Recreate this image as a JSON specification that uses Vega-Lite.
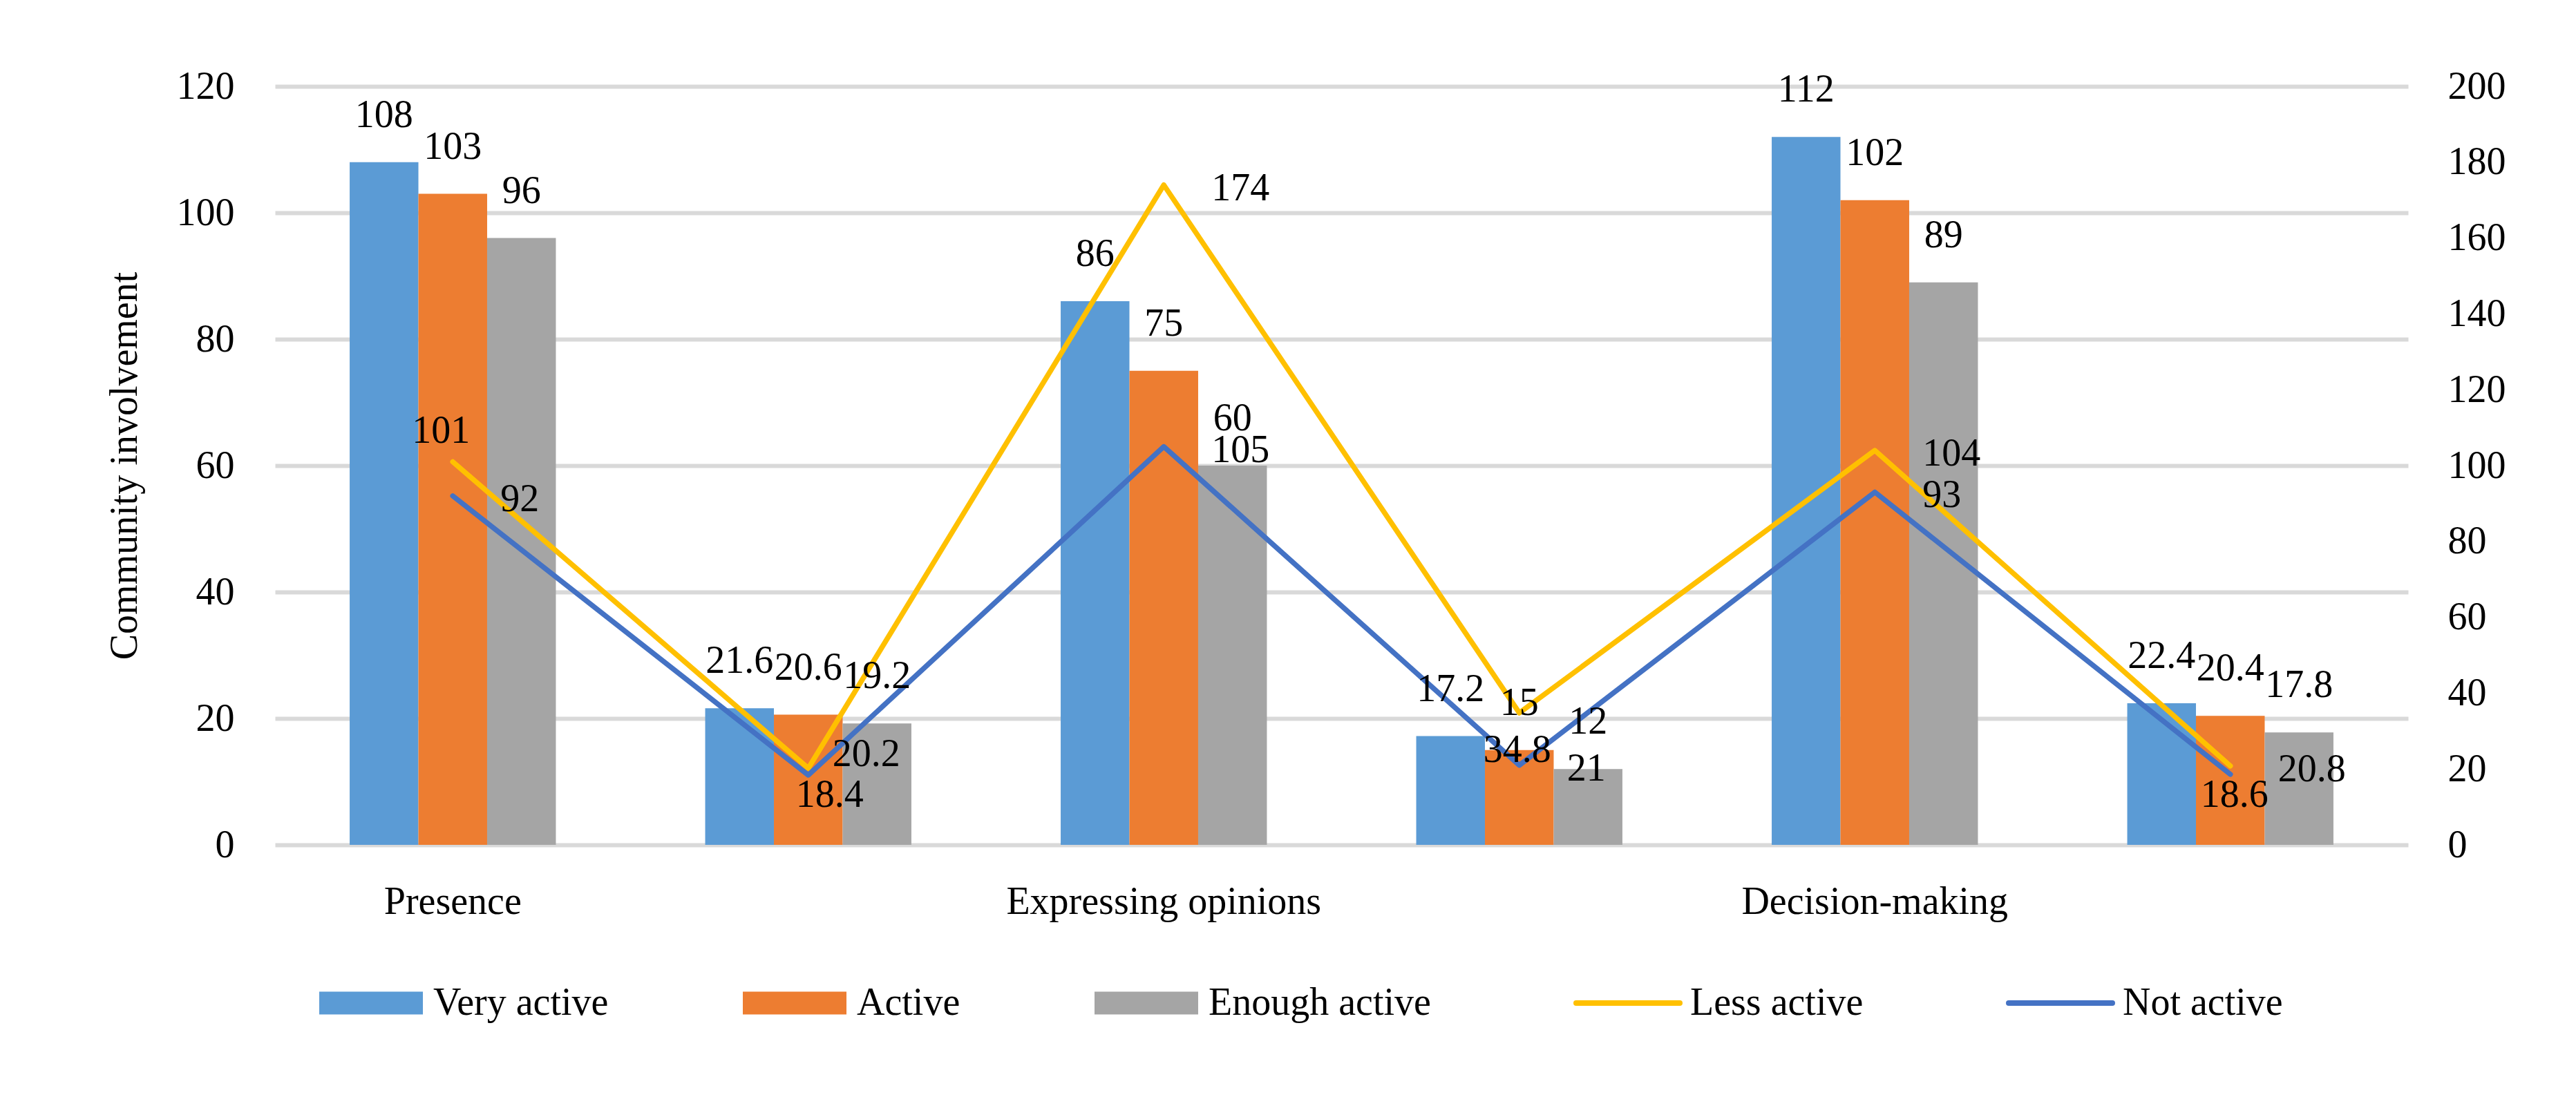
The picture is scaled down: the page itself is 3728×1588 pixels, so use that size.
{
  "$schema": "https://vega.github.io/schema/vega-lite/v6.json",
  "width": 3087,
  "height": 1098,
  "autosize": {"type": "none"},
  "padding": {"left": 398, "top": 125, "right": 243, "bottom": 365},
  "background": "white",
  "config": {
    "view": {"stroke": null},
    "font": "Liberation Serif",
    "axis": {
      "labelFont": "Liberation Serif",
      "labelFontSize": 56,
      "labelColor": "#000000",
      "titleFont": "Liberation Serif",
      "titleFontSize": 56,
      "titleFontWeight": "normal",
      "titleColor": "#000000",
      "domain": false,
      "ticks": false,
      "tickSize": 0
    },
    "text": {"font": "Liberation Serif", "fontSize": 56, "color": "#000000"}
  },
  "datasets": {
    "main": [
      {"category": "Presence", "series": "Very active", "value": 108},
      {"category": "Presence", "series": "Active", "value": 103},
      {"category": "Presence", "series": "Enough active", "value": 96},
      {"category": "Presence", "series": "Less active", "value": 101},
      {"category": "Presence", "series": "Not active", "value": 92},
      {"category": "Presence 2", "series": "Very active", "value": 21.6},
      {"category": "Presence 2", "series": "Active", "value": 20.6},
      {"category": "Presence 2", "series": "Enough active", "value": 19.2},
      {"category": "Presence 2", "series": "Less active", "value": 20.2},
      {"category": "Presence 2", "series": "Not active", "value": 18.4},
      {"category": "Expressing opinions", "series": "Very active", "value": 86},
      {"category": "Expressing opinions", "series": "Active", "value": 75},
      {"category": "Expressing opinions", "series": "Enough active", "value": 60},
      {"category": "Expressing opinions", "series": "Less active", "value": 174},
      {"category": "Expressing opinions", "series": "Not active", "value": 105},
      {"category": "Expressing opinions 2", "series": "Very active", "value": 17.2},
      {"category": "Expressing opinions 2", "series": "Active", "value": 15},
      {"category": "Expressing opinions 2", "series": "Enough active", "value": 12},
      {"category": "Expressing opinions 2", "series": "Less active", "value": 34.8},
      {"category": "Expressing opinions 2", "series": "Not active", "value": 21},
      {"category": "Decision-making", "series": "Very active", "value": 112},
      {"category": "Decision-making", "series": "Active", "value": 102},
      {"category": "Decision-making", "series": "Enough active", "value": 89},
      {"category": "Decision-making", "series": "Less active", "value": 104},
      {"category": "Decision-making", "series": "Not active", "value": 93},
      {"category": "Decision-making 2", "series": "Very active", "value": 22.4},
      {"category": "Decision-making 2", "series": "Active", "value": 20.4},
      {"category": "Decision-making 2", "series": "Enough active", "value": 17.8},
      {"category": "Decision-making 2", "series": "Less active", "value": 20.8},
      {"category": "Decision-making 2", "series": "Not active", "value": 18.6}
    ]
  },
  "data": {"name": "main"},
  "resolve": {"scale": {"y": "independent"}},
  "layer": [
    {
      "transform": [{"filter": "indexof(['Very active','Active','Enough active'], datum.series) >= 0"}],
      "mark": {"type": "bar"},
      "encoding": {
        "x": {
          "field": "category", "type": "nominal",
          "scale": {"domain": ["Presence", "Presence 2", "Expressing opinions", "Expressing opinions 2", "Decision-making", "Decision-making 2"], "paddingInner": 0.42, "paddingOuter": 0.21},
          "axis": {"title": null, "labelAngle": 0, "labelPadding": 55, "labelLimit": 0, "labelExpr": "indexof(datum.label, ' 2') > 0 ? '' : datum.label"}
        },
        "xOffset": {
          "field": "series", "type": "nominal",
          "scale": {"domain": ["Very active", "Active", "Enough active"], "paddingInner": 0, "paddingOuter": 0}
        },
        "y": {
          "field": "value", "type": "quantitative",
          "scale": {"domain": [0, 120], "nice": false, "zero": true},
          "axis": {"title": "Community involvement", "orient": "left", "values": [0, 20, 40, 60, 80, 100, 120], "grid": true, "gridColor": "#D9D9D9", "gridWidth": 6, "labelPadding": 59, "titlePadding": 46}
        },
        "color": {
          "field": "series", "type": "nominal",
          "scale": {"domain": ["Very active", "Active", "Enough active", "Less active", "Not active"], "range": ["#5B9BD5", "#ED7D31", "#A5A5A5", "#FFC000", "#4472C4"]},
          "legend": {
            "orient": "none", "legendX": 64, "legendY": 1299, "direction": "horizontal",
            "title": null, "padding": 0,
            "labelFont": "Liberation Serif", "labelFontSize": 56, "labelColor": "#000000", "labelLimit": 0,
            "symbolSize": 22500, "symbolOffset": 47, "labelOffset": 62, "columnPadding": 194,
            "encode": {
              "symbols": {
                "update": {
                  "shape": {"signal": "(datum.value === 'Less active' || datum.value === 'Not active') ? 'M-1,0H1' : 'M-1,-0.22H1V0.22H-1Z'"},
                  "fill": {"signal": "(datum.value === 'Less active' || datum.value === 'Not active') ? 'transparent' : scale('color', datum.value)"},
                  "stroke": {"signal": "scale('color', datum.value)"},
                  "strokeWidth": {"signal": "(datum.value === 'Less active' || datum.value === 'Not active') ? 8 : 0"},
                  "strokeCap": {"value": "round"},
                  "opacity": {"value": 1},
                  "fillOpacity": {"value": 1}
                }
              }
            }
          }
        }
      }
    },
    {
      "transform": [{"filter": "datum.series === 'Less active' || datum.series === 'Not active'"}],
      "encoding": {
        "x": {
          "field": "category", "type": "nominal",
          "scale": {"domain": ["Presence", "Presence 2", "Expressing opinions", "Expressing opinions 2", "Decision-making", "Decision-making 2"], "paddingInner": 0.42, "paddingOuter": 0.21},
          "axis": {"title": null, "labelAngle": 0, "labelPadding": 55, "labelLimit": 0, "labelExpr": "indexof(datum.label, ' 2') > 0 ? '' : datum.label"}
        },
        "y": {
          "field": "value", "type": "quantitative",
          "scale": {"domain": [0, 200], "nice": false, "zero": true},
          "axis": {"title": null, "orient": "right", "values": [0, 20, 40, 60, 80, 100, 120, 140, 160, 180, 200], "grid": false, "labelPadding": 57}
        }
      },
      "layer": [
        {
          "mark": {"type": "line", "strokeWidth": 7.5, "strokeCap": "round", "strokeJoin": "round"},
          "encoding": {
            "color": {
              "field": "series", "type": "nominal",
              "scale": {"domain": ["Very active", "Active", "Enough active", "Less active", "Not active"], "range": ["#5B9BD5", "#ED7D31", "#A5A5A5", "#FFC000", "#4472C4"]}
            }
          }
        },
        {
          "transform": [{"filter": "!((datum.series === 'Less active' && (datum.category === 'Presence' || datum.category === 'Presence 2' || datum.category === 'Expressing opinions 2')) || (datum.series === 'Not active' && (datum.category === 'Presence 2' || datum.category === 'Decision-making 2')))"}],
          "mark": {"type": "text", "align": "left", "baseline": "alphabetic", "dx": 69, "dy": 22, "color": "#000000"},
          "encoding": {"text": {"field": "value", "type": "quantitative"}}
        },
        {
          "transform": [{"filter": "datum.series === 'Less active' && datum.category === 'Presence'"}],
          "mark": {"type": "text", "align": "center", "baseline": "alphabetic", "dx": -17, "dy": -28, "color": "#000000"},
          "encoding": {"text": {"field": "value", "type": "quantitative"}}
        },
        {
          "transform": [{"filter": "datum.series === 'Less active' && datum.category === 'Presence 2'"}],
          "mark": {"type": "text", "align": "left", "baseline": "alphabetic", "dx": 35, "dy": -3, "color": "#000000"},
          "encoding": {"text": {"field": "value", "type": "quantitative"}}
        },
        {
          "transform": [{"filter": "datum.series === 'Less active' && datum.category === 'Expressing opinions 2'"}],
          "mark": {"type": "text", "align": "center", "baseline": "alphabetic", "dx": -3, "dy": 71, "color": "#000000"},
          "encoding": {"text": {"field": "value", "type": "quantitative"}}
        },
        {
          "transform": [{"filter": "datum.series === 'Not active' && datum.category === 'Presence 2'"}],
          "mark": {"type": "text", "align": "center", "baseline": "alphabetic", "dx": 31, "dy": 46, "color": "#000000"},
          "encoding": {"text": {"field": "value", "type": "quantitative"}}
        },
        {
          "transform": [{"filter": "datum.series === 'Not active' && datum.category === 'Decision-making 2'"}],
          "mark": {"type": "text", "align": "center", "baseline": "alphabetic", "dx": 6, "dy": 47, "color": "#000000"},
          "encoding": {"text": {"field": "value", "type": "quantitative"}}
        }
      ]
    },
    {
      "transform": [{"filter": "indexof(['Very active','Active','Enough active'], datum.series) >= 0"}],
      "mark": {"type": "text", "align": "center", "baseline": "alphabetic", "dy": -51, "color": "#000000"},
      "encoding": {
        "x": {
          "field": "category", "type": "nominal",
          "scale": {"domain": ["Presence", "Presence 2", "Expressing opinions", "Expressing opinions 2", "Decision-making", "Decision-making 2"], "paddingInner": 0.42, "paddingOuter": 0.21},
          "axis": {"title": null, "labelAngle": 0, "labelPadding": 55, "labelLimit": 0, "labelExpr": "indexof(datum.label, ' 2') > 0 ? '' : datum.label"}
        },
        "xOffset": {
          "field": "series", "type": "nominal",
          "scale": {"domain": ["Very active", "Active", "Enough active"], "paddingInner": 0, "paddingOuter": 0}
        },
        "y": {
          "field": "value", "type": "quantitative",
          "scale": {"domain": [0, 120], "nice": false, "zero": true},
          "axis": null
        },
        "text": {"field": "value", "type": "quantitative"}
      }
    }
  ]
}
